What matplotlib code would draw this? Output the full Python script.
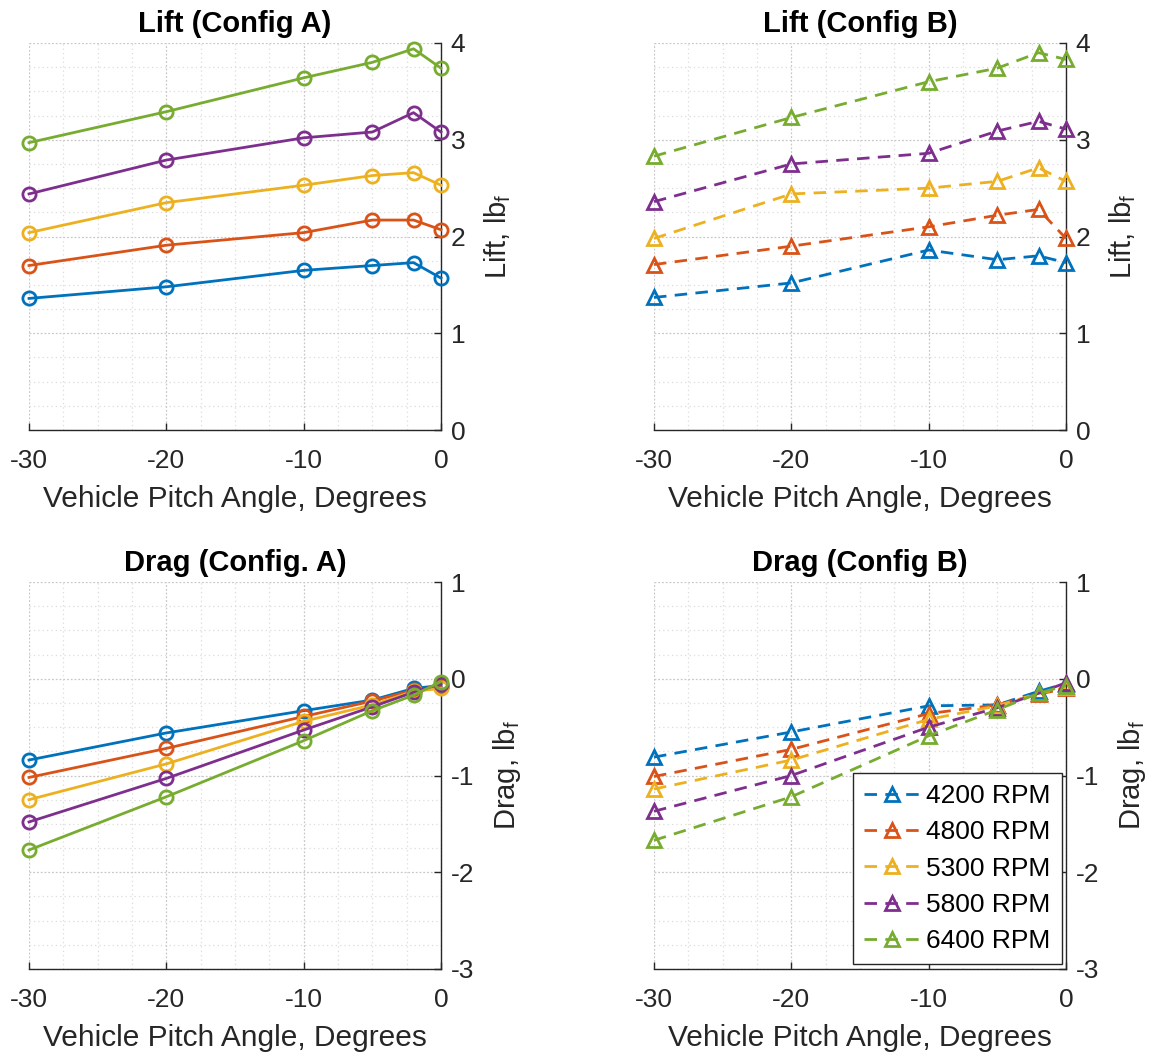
import numpy as np
import matplotlib.pyplot as plt
from matplotlib.ticker import MultipleLocator

plt.rcParams['font.family'] = ['Liberation Sans', 'DejaVu Sans']
plt.rcParams['mathtext.fontset'] = 'custom'
plt.rcParams['mathtext.rm'] = 'Liberation Sans'
plt.rcParams['mathtext.it'] = 'Liberation Sans:italic'
plt.rcParams['axes.unicode_minus'] = False

# pitch angles [deg]
pitch = np.array([-30, -20, -10, -5, -2, 0])
rpm_labels = ['4200 RPM', '4800 RPM', '5300 RPM', '5800 RPM', '6400 RPM']
colors = ['#0072BD', '#D95319', '#EDB120', '#7E2F8E', '#77AC30']

# lift [lbf], one row per rpm
lift_a = [
    [1.36, 1.48, 1.65, 1.70, 1.73, 1.57],
    [1.70, 1.91, 2.04, 2.17, 2.17, 2.07],
    [2.04, 2.35, 2.53, 2.63, 2.66, 2.53],
    [2.44, 2.79, 3.02, 3.08, 3.28, 3.08],
    [2.97, 3.29, 3.64, 3.80, 3.94, 3.74],
]
lift_b = [
    [1.37, 1.52, 1.86, 1.76, 1.80, 1.73],
    [1.71, 1.90, 2.10, 2.22, 2.28, 1.98],
    [1.98, 2.44, 2.50, 2.57, 2.71, 2.57],
    [2.36, 2.75, 2.86, 3.09, 3.19, 3.11],
    [2.83, 3.23, 3.60, 3.74, 3.90, 3.83],
]
# drag [lbf]
drag_a = [
    [-0.84, -0.56, -0.33, -0.22, -0.10, -0.07],
    [-1.02, -0.72, -0.39, -0.23, -0.12, -0.09],
    [-1.25, -0.88, -0.44, -0.27, -0.13, -0.10],
    [-1.48, -1.03, -0.53, -0.29, -0.14, -0.05],
    [-1.77, -1.22, -0.64, -0.33, -0.17, -0.03],
]
drag_b = [
    [-0.81, -0.55, -0.28, -0.27, -0.13, -0.05],
    [-1.01, -0.73, -0.36, -0.27, -0.16, -0.10],
    [-1.14, -0.84, -0.42, -0.28, -0.15, -0.09],
    [-1.37, -1.00, -0.50, -0.30, -0.15, -0.04],
    [-1.67, -1.22, -0.59, -0.32, -0.15, -0.07],
]

fig = plt.figure(figsize=(11.55, 10.52), dpi=100)
W, H = 1155, 1052
boxes = [(29, 43), (654, 43), (29, 582), (654, 582)]
axs = [fig.add_axes([l / W, 1 - (t + 387) / H, 412 / W, 387 / H]) for l, t in boxes]

panels = [
    (lift_a, 'Lift (Config A)', 'Lift, lb$_\\mathrm{f}$', (0, 4), 'o', '-'),
    (lift_b, 'Lift (Config B)', 'Lift, lb$_\\mathrm{f}$', (0, 4), '^', '--'),
    (drag_a, 'Drag (Config. A)', 'Drag, lb$_\\mathrm{f}$', (-3, 1), 'o', '-'),
    (drag_b, 'Drag (Config B)', 'Drag, lb$_\\mathrm{f}$', (-3, 1), '^', '--'),
]

txt = '#262626'
for ax, (data, title, ylab, ylim, mk, ls) in zip(axs, panels):
    for vals, c, lab in zip(data, colors, rpm_labels):
        line, = ax.plot(pitch, vals, color=c, lw=2, ls=ls, marker=mk,
                        ms=10 if mk == '^' else 9.5, mfc='none', mew=2,
                        clip_on=False, label=lab, zorder=3)
        if ls == '--':
            line.set_dashes((4.5, 3))
    ax.set_xlim(-30, 0)
    ax.set_ylim(*ylim)
    ax.xaxis.set_major_locator(MultipleLocator(10))
    ax.xaxis.set_minor_locator(MultipleLocator(2.5))
    ax.yaxis.set_major_locator(MultipleLocator(1))
    ax.yaxis.set_minor_locator(MultipleLocator(0.25))
    ax.yaxis.tick_right()
    ax.yaxis.set_label_position('right')
    ax.spines['top'].set_visible(False)
    ax.spines['left'].set_visible(False)
    for s in ('bottom', 'right'):
        ax.spines[s].set_color(txt)
        ax.spines[s].set_linewidth(1.0)
    ax.tick_params(which='major', direction='in', length=5, width=1,
                   colors=txt, labelsize=19)
    ax.tick_params(axis='x', pad=14)
    ax.tick_params(axis='y', pad=7)
    ax.tick_params(which='minor', length=0)
    ax.grid(which='major', color='#c8c8c8', ls=(0, (1.5, 1.5)), lw=0.9)
    ax.grid(which='minor', color='#dcdcdc', ls=(0, (1, 2.5)), lw=0.9)
    ax.set_axisbelow(True)
    ax.set_title(title, fontsize=21, fontweight='bold', pad=8)
    ax.set_xlabel('Vehicle Pitch Angle, Degrees', fontsize=21.5, color=txt, labelpad=8)
    ax.set_ylabel(ylab, fontsize=21, color=txt, labelpad=12)

leg = axs[3].legend(loc='lower right', bbox_to_anchor=(0.99, 0.013), fontsize=19,
                    handlelength=2.1, handletextpad=0.25, borderpad=0.42,
                    labelspacing=0.46, fancybox=False, framealpha=1,
                    edgecolor='#262626', borderaxespad=0)
leg.get_frame().set_linewidth(1.0)

fig.savefig('out.png', dpi=100)
